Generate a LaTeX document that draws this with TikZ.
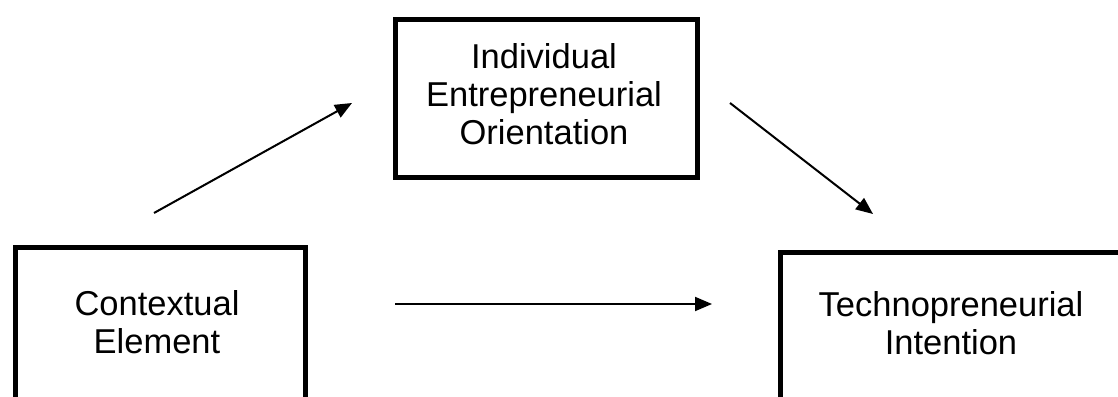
\documentclass[tikz,border=0pt]{standalone}
\usepackage{fontspec}
\setmainfont{Liberation Sans}
\usetikzlibrary{arrows.meta}
\begin{document}
\begin{tikzpicture}[x=1pt,y=1pt,
  box/.style={draw=black, line width=5pt, rectangle, inner sep=0pt, anchor=north west},
  lbl/.style={align=center, inner sep=0pt, font=\fontsize{34.5}{38}\selectfont},
  link/.style={line width=2pt, -{Triangle[length=17pt,width=14pt]}}]
\useasboundingbox (0,0) rectangle (1118,396);
\clip (0,0) rectangle (1118,396);
% boxes
\node[box, minimum width=302pt, minimum height=158pt] (ieo) at (393,379) {};
\node[box, minimum width=290pt, minimum height=200pt] (ce) at (13,151) {};
\node[box, minimum width=400pt, minimum height=200pt] (ti) at (778,146) {};
% texts
\node[lbl] (ieot) at (544,302) {Individual\\Entrepreneurial\\Orientation};
\node[lbl] (cet) at (157,74) {Contextual\\Element};
\node[lbl] (tit) at (951,73) {Technopreneurial\\Intention};
% arrow ends
\coordinate (a1s) at (154,183);
\coordinate (a1e) at (352,293);
\coordinate (a2s) at (730,293);
\coordinate (a2e) at (873,182);
\coordinate (a3s) at (395,92);
\coordinate (a3e) at (712,92);
\draw[link] (a1s) -- (a1e);
\draw[link] (a2s) -- (a2e);
\draw[link] (a3s) -- (a3e);
\end{tikzpicture}
\end{document}
